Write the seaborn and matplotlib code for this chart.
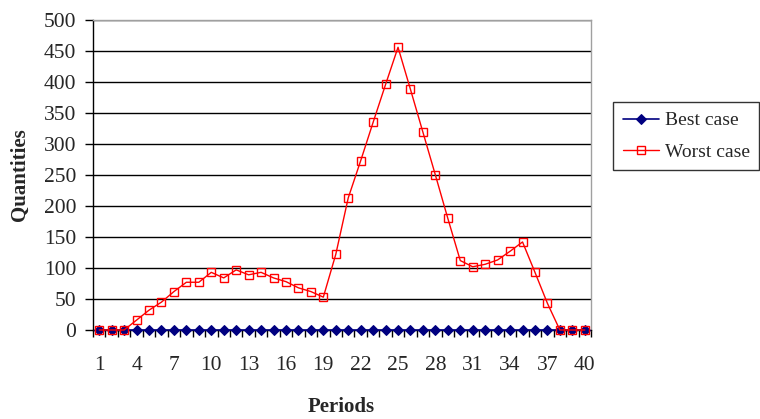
import numpy as np
import pandas as pd
import seaborn as sns
import matplotlib
matplotlib.use("Agg")
import matplotlib.pyplot as plt

periods = list(range(1, 41))
best_case = [0, 0, 0, 0, 0, 0, 0, 0, 0, 0,
             0, 0, 0, 0, 0, 0, 0, 0, 0, 0,
             0, 0, 0, 0, 0, 0, 0, 0, 0, 0,
             0, 0, 0, 0, 0, 0, 0, 0, 0, 0]
worst_case = [0, 0, 0, 16, 32, 45, 62, 77, 77, 93,
              84, 97, 89, 93, 84, 78, 68, 62, 53, 122,
              213, 273, 335, 396, 456, 388, 319, 250, 180, 112,
              102, 106, 113, 127, 142, 93, 43, 0, 0, 0]
x_labels = [1, 4, 7, 10, 13, 16, 19, 22, 25, 28, 31, 34, 37, 40]
y_ticks = [0, 50, 100, 150, 200, 250, 300, 350, 400, 450, 500]

sns.set_style("white")
plt.rcParams['font.family'] = ['Liberation Serif', 'DejaVu Serif']

fig = plt.figure(figsize=(7.6, 4.19), dpi=100)
ax = fig.add_axes([93/760, 1 - 330/419, (591 - 93)/760, (330 - 20)/419])

sns.lineplot(x=periods, y=best_case, ax=ax, color='#000080', marker='D',
             markersize=5, markeredgecolor='#000080', markerfacecolor='#000080',
             linewidth=1.2, clip_on=False, zorder=3, label='Best case')
sns.lineplot(x=periods, y=worst_case, ax=ax, color='#FF0000', marker='s',
             markersize=6.2, markeredgecolor='#FF0000', markerfacecolor='none',
             markeredgewidth=1.0, linewidth=1.0, clip_on=False, zorder=4,
             label='Worst case')

ax.set_xlim(0.5, 40.5)
ax.set_ylim(0, 500)
ax.set_yticks(y_ticks)
ax.set_xticks(x_labels)
ax.set_xticks(np.arange(0.5, 41, 1), minor=True)
ax.tick_params(axis='x', which='major', length=0, pad=19, labelsize=15.5)
ax.tick_params(axis='x', which='minor', length=5, width=1, direction='out',
               color='black', bottom=True)
ax.tick_params(axis='y', which='major', length=6, width=1, direction='out',
               color='black', left=True, pad=6, labelsize=15.5)

for y in y_ticks[1:]:
    ax.axhline(y, color='black', linewidth=1, zorder=1)

for s in ['left', 'bottom']:
    ax.spines[s].set_color('black')
    ax.spines[s].set_linewidth(1)
for s in ['top', 'right']:
    ax.spines[s].set_color('#A0A0A0')
    ax.spines[s].set_linewidth(1)

ax.set_xlabel('')
ax.set_ylabel('')
fig.text(341/760, 1 - 407/419, 'Periods', ha='center', va='center',
         fontsize=15, fontweight='bold')
fig.text(20/760, 1 - 175/419, 'Quantities', ha='center', va='center',
         rotation=90, fontsize=15, fontweight='bold')

ax.legend_.remove()
handles, labels = ax.get_legend_handles_labels()
leg = fig.legend(handles, labels, loc='upper left',
                 bbox_to_anchor=(613/760, 1 - 102/419),
                 frameon=True, fancybox=False, fontsize=14,
                 handlelength=1.85, handletextpad=0.3, labelspacing=0.7,
                 borderpad=0.5, borderaxespad=0)
leg.get_frame().set_edgecolor('black')
leg.get_frame().set_linewidth(1)

fig.savefig('out.png', dpi=100)
